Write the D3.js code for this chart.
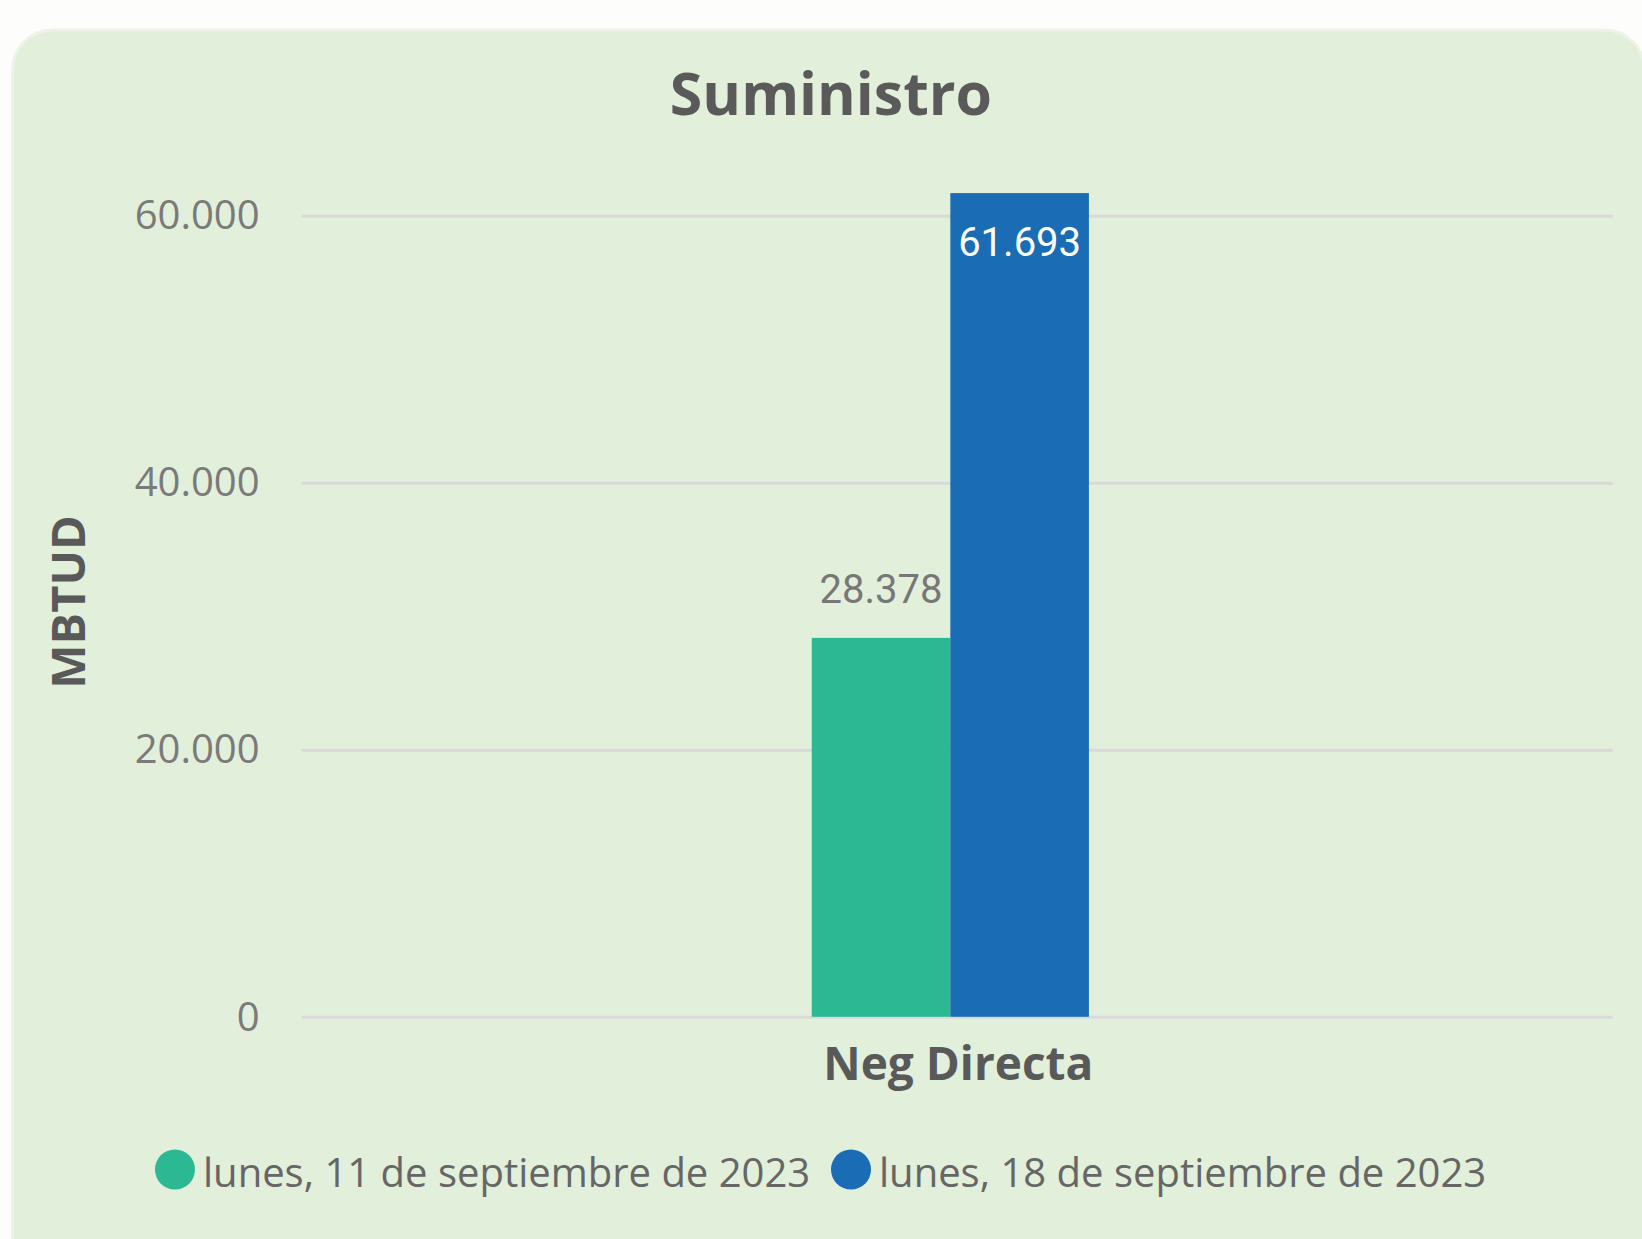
<!DOCTYPE html>
<html lang="es">
<head>
<meta charset="utf-8">
<title>Suministro</title>
<script src="https://d3js.org/d3.v7.min.js"></script>
<style>
  html, body { margin: 0; padding: 0; background: #fdfdfb; }
  svg { display: block; }
  .tick-label { font-family: "Open Sans", sans-serif; font-size: 40px; fill: #7a7a7a; }
  .cat-label { font-family: "Open Sans", sans-serif; font-size: 46px; font-weight: bold; fill: #595959; }
  .axis-title { font-family: "Open Sans", sans-serif; font-size: 47px; font-weight: bold; fill: #595959; }
  .title { font-family: "Open Sans", sans-serif; font-size: 59px; font-weight: bold; fill: #5a5a5a; }
  .bar-label { font-family: Roboto, sans-serif; font-size: 40px; }
  .legend-text { font-family: "Open Sans", sans-serif; font-size: 40px; fill: #666; }
</style>
</head>
<body>
<div id="chart"></div>
<script>
// data
const categories = ["Neg Directa"];
const seriesNames = ["lunes, 11 de septiembre de 2023", "lunes, 18 de septiembre de 2023"];
const seriesValues = [[28378], [61693]];
const seriesColors = ["#2cb893", "#1a6db5"];
const yTicks = [0, 20000, 40000, 60000];

const W = 1642, H = 1239;
const plot = { left: 301.6, right: 1612.7, top: 215.7, bottom: 1016.8 };

const fmt = v => d3.format(",")(v).replace(/,/g, ".");

const svg = d3.select("#chart").append("svg")
  .attr("width", W).attr("height", H);

// panel
svg.append("rect")
  .attr("x", 12.5).attr("y", 30).attr("width", 1632).attr("height", 1280)
  .attr("rx", 40).attr("ry", 40)
  .attr("fill", "#e2efda")
  .attr("stroke", "#eef3ea").attr("stroke-width", 3);

const y = d3.scaleLinear().domain([0, 60000]).range([plot.bottom, plot.top]);
const x = d3.scaleBand().domain(categories)
  .range([plot.left, plot.right]).padding(0.651).align(0.4934);
const xs = d3.scaleBand().domain(d3.range(seriesNames.length))
  .range([0, x.bandwidth()]);

// gridlines + y labels
const yAxis = svg.append("g")
  .attr("transform", `translate(${plot.left},0)`)
  .call(d3.axisLeft(y).tickValues(yTicks).tickFormat(fmt)
    .tickSize(-(plot.right - plot.left)).tickPadding(42));
yAxis.select(".domain").remove();
yAxis.selectAll(".tick line").attr("stroke", "#d9d9d9").attr("stroke-width", 3);
yAxis.selectAll(".tick text").attr("class", "tick-label").attr("fill", null)
  .attr("dy", "0.33em");

// bars
const groups = svg.selectAll(".cat").data(categories).enter().append("g")
  .attr("transform", d => `translate(${x(d)},0)`);

seriesNames.forEach((name, si) => {
  groups.append("rect")
    .attr("x", xs(si))
    .attr("width", xs.bandwidth())
    .attr("y", (d, ci) => y(seriesValues[si][ci]))
    .attr("height", (d, ci) => y(0) - y(seriesValues[si][ci]))
    .attr("fill", seriesColors[si]);
});

// data labels: first outside end, second inside end
groups.append("text")
  .attr("class", "bar-label")
  .attr("text-anchor", "middle")
  .attr("x", xs(0) + xs.bandwidth() / 2)
  .attr("y", (d, ci) => y(seriesValues[0][ci]) - 35)
  .attr("fill", "#777")
  .text((d, ci) => fmt(seriesValues[0][ci]));
groups.append("text")
  .attr("class", "bar-label")
  .attr("text-anchor", "middle")
  .attr("x", xs(1) + xs.bandwidth() / 2)
  .attr("y", (d, ci) => y(seriesValues[1][ci]) + 63)
  .attr("fill", "#fff")
  .text((d, ci) => fmt(seriesValues[1][ci]));

// category axis
svg.selectAll(".cat-label").data(categories).enter().append("text")
  .attr("class", "cat-label")
  .attr("text-anchor", "middle")
  .attr("x", d => x(d) + x.bandwidth() / 2 + 8)
  .attr("y", 1080)
  .text(d => d);

// axis title
svg.append("text")
  .attr("class", "axis-title")
  .attr("text-anchor", "middle")
  .attr("transform", "translate(85,602) rotate(-90)")
  .text("MBTUD");

// title
svg.append("text")
  .attr("class", "title")
  .attr("text-anchor", "middle")
  .attr("x", 831).attr("y", 115)
  .text("Suministro");

// legend
const legendX = [175, 851];
const leg = svg.selectAll(".leg").data(seriesNames).enter().append("g")
  .attr("transform", (d, i) => `translate(${legendX[i]},1169.5)`);
leg.append("circle").attr("r", 20).attr("fill", (d, i) => seriesColors[i]);
leg.append("text").attr("class", "legend-text")
  .attr("x", 28).attr("y", 17)
  .text(d => d);
</script>
</body>
</html>
